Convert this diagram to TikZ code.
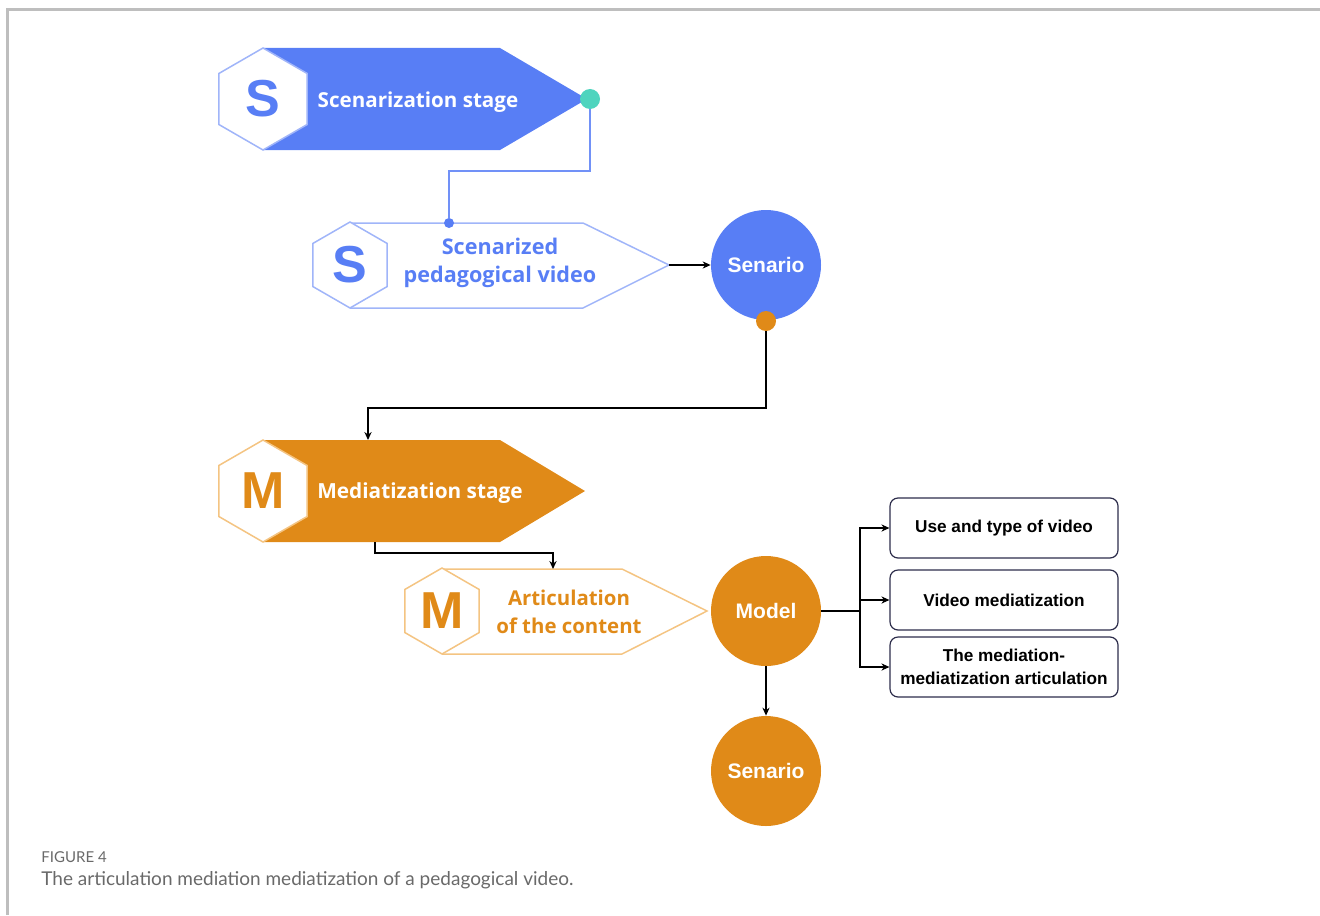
\documentclass[tikz,border=0pt]{standalone}
\usepackage{fontspec}
\setmainfont{Open Sans}
\newfontfamily\arialfont{Liberation Sans}
\newfontfamily\capfont{Lato}
\usepackage{tikz}
\usetikzlibrary{shapes.geometric}
\usetikzlibrary{arrows.meta}

\definecolor{sblue}{RGB}{88,126,245}
\definecolor{sbluelight}{RGB}{160,181,249}
\definecolor{morange}{RGB}{224,138,24}
\definecolor{morangelight}{RGB}{244,196,130}
\definecolor{dotteal}{RGB}{78,212,190}
\definecolor{boxedge}{RGB}{45,45,75}
\definecolor{framegray}{RGB}{190,190,190}
\definecolor{capgray}{RGB}{105,105,105}

\begin{document}
\begin{tikzpicture}[x=0.5pt,y=-0.5pt,
    >={Stealth[length=4pt,width=3.6pt]},
    hexa/.style={regular polygon,regular polygon sides=6,shape border rotate=30,
                 inner sep=0pt,minimum size=#1,fill=white,line width=0.75pt,
                 font=\arialfont\bfseries\fontsize{26}{26}\selectfont},
    stagetxt/.style={font=\bfseries\fontsize{#1}{14}\selectfont,align=center,inner sep=0pt},
    blob/.style={circle,minimum size=55pt,inner sep=0pt,text=white,
                 font=\arialfont\bfseries\fontsize{10.5}{12}\selectfont},
    joint/.style={circle,inner sep=0pt,minimum size=#1},
    itembox/.style={rectangle,rounded corners=4pt,draw=boxedge,line width=0.6pt,
                    minimum width=114pt,minimum height=30pt,inner sep=0pt,align=center,
                    font=\arialfont\bfseries\fontsize{8.6}{11.5}\selectfont},
    link/.style={draw=black,line width=0.6pt}]
\useasboundingbox (0,0) rectangle (1320,915);

% frame
\draw[framegray,line width=1.5pt] (7,915) -- (7,10) -- (1320,10);

% scenarization stage
\fill[sblue] (263,48) -- (500,48) -- (587,99) -- (500,150) -- (263,150) -- cycle;
\node[hexa=51pt,draw=sbluelight,text=sblue] (S1) at (263,99) {S};
\node[stagetxt=10.3,text=white] (S1t) at (418,102) {Scenarization stage};

\draw[sbluelight,line width=0.75pt] (350,223) -- (583,223) -- (669,265) -- (583,308) -- (350,308);
\node[hexa=43pt,draw=sbluelight,text=sblue] (S2) at (350,265) {S};
\node[stagetxt=10.8,text=sblue] (S2t) at (500,263) {Scenarized\\pedagogical video};
\coordinate (S2tip) at (669,265);

\node[blob,fill=sblue] (Sen1) at (766,265) {Senario};

% mediatization stage
\fill[morange] (263,440) -- (500,440) -- (585,491) -- (500,542) -- (263,542) -- cycle;
\node[hexa=51pt,draw=morangelight,text=morange] (M1) at (263,491) {M};
\node[stagetxt=10.4,text=white] (M1t) at (420,493) {Mediatization stage};
\coordinate (M1top) at (368,440);
\coordinate (M1bot) at (375,542);

\draw[morangelight,line width=0.75pt] (442,569) -- (622,569) -- (707,611) -- (622,654) -- (442,654);
\node[hexa=43pt,draw=morangelight,text=morange] (M2) at (442,611) {M};
\node[stagetxt=10.2,text=morange] (M2t) at (569,612) {Articulation\\of the content};
\coordinate (M2top) at (553,569);

\node[blob,fill=morange] (Mod) at (766,611) {Model};
\node[blob,fill=morange] (Sen2) at (766,771) {Senario};

\node[itembox] (U1) at (1004,528) {Use and type of video};
\node[itembox] (U2) at (1004,600) {Video mediatization};
\node[itembox] (U3) at (1004,667) {The mediation-\\mediatization articulation};
\coordinate (J) at (860,611);

% dots
\node[joint=10pt,fill=dotteal] (tq) at (590,99) {};
\node[joint=5pt,fill=sblue] (bd) at (449,223) {};
\node[joint=10pt,fill=morange] (od) at (766,321) {};

% connectors
\draw[sblue!85,line width=1pt] (tq) -- ++(0,72) -| (bd);
\draw[link,->] (S2tip) -- (Sen1);
\draw[link,->] (od) -- ++(0,87) -| (M1top);
\draw[link,->] (M1bot) -- ++(0,11) -| (M2top);
\draw[link] (Mod) -- (J);
\draw[link,->] (J) |- (U1.west);
\draw[link,->] (J) |- (U2.west);
\draw[link,->] (J) |- (U3.west);
\draw[link,->] (Mod) -- (Sen2);

% caption
\node[anchor=west,inner sep=0pt,text=capgray,font=\capfont\fontsize{7.5}{9}\selectfont] (fig) at (41,857) {FIGURE 4};
\node[anchor=west,inner sep=0pt,text=capgray,font=\capfont\fontsize{9.5}{11}\selectfont] (cap) at (41,880) {The articulation mediation mediatization of a pedagogical video.};
\end{tikzpicture}
\end{document}
